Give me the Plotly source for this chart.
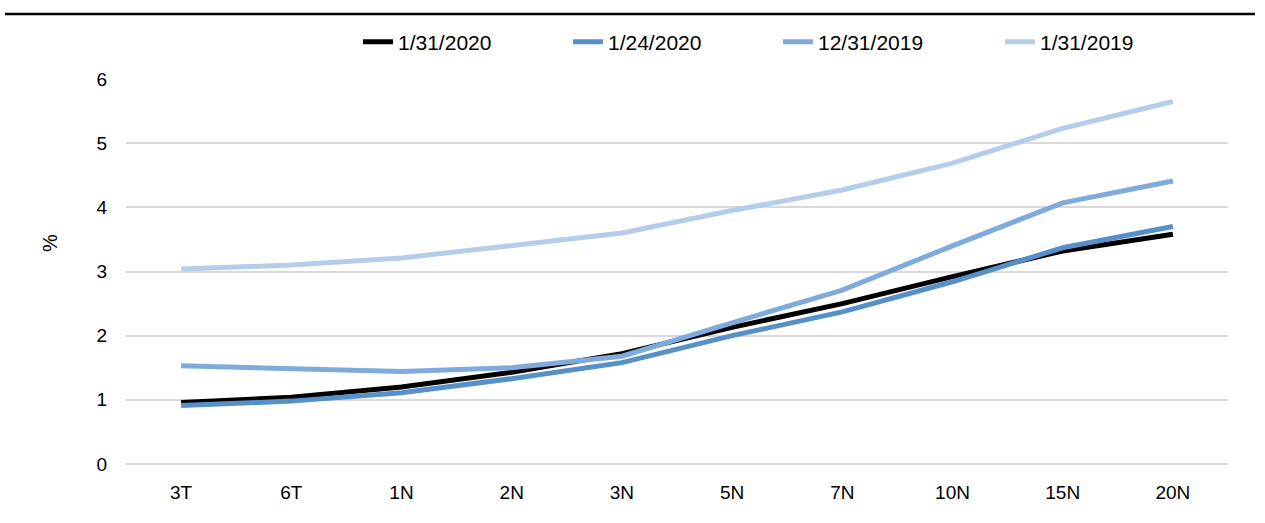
import plotly.graph_objects as go

# Tenors on the yield curve
tenors = ["3T", "6T", "1N", "2N", "3N", "5N", "7N", "10N", "15N", "20N"]

# Yields (%) by observation date
yield_2020_01_31 = [0.96, 1.04, 1.20, 1.43, 1.72, 2.13, 2.50, 2.92, 3.32, 3.58]
yield_2020_01_24 = [0.91, 0.98, 1.11, 1.33, 1.58, 2.00, 2.37, 2.84, 3.37, 3.70]
yield_2019_12_31 = [1.53, 1.48, 1.44, 1.50, 1.68, 2.20, 2.71, 3.40, 4.07, 4.41]
yield_2019_01_31 = [3.04, 3.10, 3.21, 3.40, 3.60, 3.95, 4.27, 4.69, 5.23, 5.65]

series_names = ["1/31/2020", "1/24/2020", "12/31/2019", "1/31/2019"]
series_values = [yield_2020_01_31, yield_2020_01_24, yield_2019_12_31, yield_2019_01_31]
series_colors = ["#000000", "#5590C8", "#7EAADC", "#B6CDE9"]

W, H = 1265, 523
ML, MR, MT, MB = 126, 37, 79, 59
plot_w = W - ML - MR
plot_h = H - MT - MB

def px_to_paper_x(px):
    return (px - ML) / plot_w

def px_to_paper_y(py):
    return (H - MB - py) / plot_h

FONT = "Liberation Sans, Arial, sans-serif"

fig = go.Figure()

# one legend per series so each entry sits at its own position
legend_ids = ["legend", "legend2", "legend3", "legend4"]
legend_text_x = [398, 608, 818, 1040]

for name, vals, color, lid in zip(series_names, series_values, series_colors, legend_ids):
    fig.add_trace(go.Scatter(
        x=tenors, y=vals, name=name, mode="lines",
        line=dict(color=color, width=5),
        legend=lid,
    ))

legend_layouts = {}
for lid, tx in zip(legend_ids, legend_text_x):
    legend_layouts[lid] = dict(
        x=px_to_paper_x(tx - 40), xanchor="left",
        y=px_to_paper_y(42), yanchor="middle",
        orientation="h",
        font=dict(family=FONT, size=21, color="#000000"),
        bgcolor="rgba(0,0,0,0)", borderwidth=0,
        itemwidth=30,
    )

fig.update_layout(
    width=W, height=H,
    margin=dict(l=ML, r=MR, t=MT, b=MB),
    paper_bgcolor="white", plot_bgcolor="white",
    showlegend=True,
    font=dict(family=FONT, size=19, color="#000000"),
    xaxis=dict(
        type="category", range=[-0.5, len(tenors) - 0.5],
        showgrid=False, zeroline=False, showline=False,
        ticks="", ticklabelstandoff=15,
        tickfont=dict(family=FONT, size=19, color="#000000"),
    ),
    yaxis=dict(
        range=[0, 6], dtick=1, tick0=0,
        showgrid=True, gridcolor="#D9D9D9", gridwidth=1.5,
        zeroline=True, zerolinecolor="#D9D9D9", zerolinewidth=1.5,
        showline=False, ticks="", ticklabelstandoff=18,
        tickfont=dict(family=FONT, size=19, color="#000000"),
    ),
    shapes=[dict(
        type="line", xref="paper", yref="paper",
        x0=px_to_paper_x(5), x1=px_to_paper_x(1255),
        y0=px_to_paper_y(14), y1=px_to_paper_y(14),
        line=dict(color="#000000", width=2.5),
    )],
    annotations=[dict(
        text="%", xref="paper", yref="paper",
        x=px_to_paper_x(50), y=px_to_paper_y(243),
        xanchor="center", yanchor="middle",
        showarrow=False, textangle=-90,
        font=dict(family=FONT, size=20, color="#000000"),
    )],
    **legend_layouts,
)

fig.write_html("out.html")
